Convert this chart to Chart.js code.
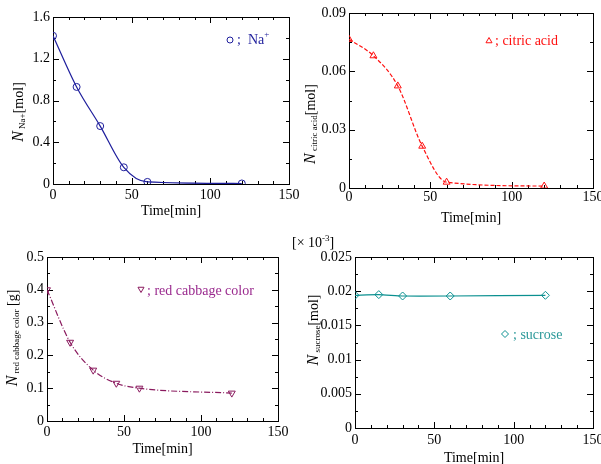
<!DOCTYPE html>
<html lang="en">
  <head>
    <meta charset="UTF-8">
    <title>Removal over time</title>
    <script src="https://cdn.jsdelivr.net/npm/chart.js"></script>
    <style>
      body { margin: 0; background: #fff; }
      #wrap { position: relative; width: 601px; height: 464px; overflow: hidden; }
      #wrap canvas { position: absolute; left: 0; top: 0; }
      .warm { position: absolute; left: -999px; top: 0; font-family: 'Liberation Serif'; }
    </style>
  </head>
  <body>
  <div id="wrap">
    <canvas id="c1" width="601" height="464"></canvas>
    <canvas id="c2" width="601" height="464"></canvas>
    <canvas id="c3" width="601" height="464"></canvas>
    <canvas id="c4" width="601" height="464"></canvas>
  </div>
  <span class="warm">Time <i>N</i></span>
  <script>

// data
const timeMin = [0, 15, 30, 45, 60, 120];
const naMol = [1.42, 0.93, 0.555, 0.16, 0.02, 0.005];
const citricMol = [0.0765, 0.068, 0.0525, 0.0215, 0.003, 0.001];
const cabbageG = [0.40, 0.24, 0.155, 0.115, 0.10, 0.085];
const sucroseTime = [0, 15, 30, 60, 120];
const sucroseMol = [0.0194, 0.0195, 0.0193, 0.0193, 0.0194];

const xTicks = [0, 50, 100, 150];
const naTicks = [0, 0.4, 0.8, 1.2, 1.6];
const citricTicks = [0, 0.03, 0.06, 0.09];
const cabbageTicks = [0, 0.1, 0.2, 0.3, 0.4, 0.5];
const sucroseTicks = [0, 0.005, 0.01, 0.015, 0.02, 0.025];

const SERIF = "'Liberation Serif', 'Times New Roman', serif";
const FS = 14;

function pts(xs, ys) {
  return xs.map((x, i) => ({x: x, y: ys[i]}));
}

// draw text made of pieces (subscripts etc), optionally rotated
function drawRich(ctx, parts, x, y, rot, center) {
  ctx.save();
  ctx.translate(x, y);
  if (rot) ctx.rotate(rot);
  let w = 0;
  parts.forEach(p => { ctx.font = p.font; w += ctx.measureText(p.t).width; });
  let cx = center ? -w / 2 : 0;
  ctx.textBaseline = 'alphabetic';
  ctx.textAlign = 'left';
  parts.forEach(p => {
    ctx.font = p.font;
    ctx.fillStyle = p.color || '#000';
    ctx.fillText(p.t, cx, p.dy || 0);
    cx += ctx.measureText(p.t).width;
  });
  ctx.restore();
}

const framePlugin = {
  id: 'frame',
  beforeDatasetsDraw(chart, args, o) {
    const ctx = chart.ctx, a = chart.chartArea;
    const x = chart.scales.x, y = chart.scales.y;
    ctx.save();
    ctx.strokeStyle = '#000';
    ctx.lineWidth = 1;
    ctx.strokeRect(Math.round(a.left) + 0.5, Math.round(a.top) + 0.5,
      Math.round(a.right - a.left), Math.round(a.bottom - a.top));
    ctx.beginPath();
    for (let v = x.min; v <= x.max + 1e-9; v += o.xMinor) {
      const len = Math.abs(v / o.xMajor - Math.round(v / o.xMajor)) < 1e-6 ? 6 : 3;
      const px = Math.round(x.getPixelForValue(v)) + 0.5;
      ctx.moveTo(px, a.bottom); ctx.lineTo(px, a.bottom - len);
      ctx.moveTo(px, a.top); ctx.lineTo(px, a.top + len);
    }
    for (let v = y.min; v <= y.max + 1e-12; v += o.yMinor) {
      const len = Math.abs(v / o.yMajor - Math.round(v / o.yMajor)) < 1e-6 ? 6 : 3;
      const py = Math.round(y.getPixelForValue(v)) + 0.5;
      ctx.moveTo(a.left, py); ctx.lineTo(a.left + len, py);
      ctx.moveTo(a.right, py); ctx.lineTo(a.right - len, py);
    }
    ctx.stroke();
    ctx.restore();
  },
  afterDraw(chart, args, o) {
    const ctx = chart.ctx, a = chart.chartArea;
    // axis titles
    drawRich(ctx, [{t: 'Time[min]', font: FS + 'px ' + SERIF}], (a.left + a.right) / 2, o.xTitleY, 0, true);
    drawRich(ctx, o.yTitle, o.yTitlePos[0], o.yTitlePos[1], -Math.PI / 2, true);
    // legend
    const ds = chart.data.datasets[0];
    const lg = o.legend;
    ctx.save();
    ctx.strokeStyle = ds.pointBorderColor;
    ctx.fillStyle = 'rgba(0,0,0,0)';
    ctx.lineWidth = 1;
    Chart.helpers.drawPoint(ctx, {pointStyle: ds.pointStyle, radius: lg.r, rotation: ds.pointRotation || 0, borderWidth: 1}, lg.mx, lg.my);
    ctx.restore();
    drawRich(ctx, lg.parts, lg.tx, lg.ty, 0, false);
    if (o.extra) o.extra.forEach(e => drawRich(ctx, e.parts, e.x, e.y, 0, false));
  }
};

function fmt(v) {
  return String(+v.toFixed(4));
}

function makeChart(id, area, data, ds, xTickList, yTickList, frame) {
  const W = 601, H = 464, yW = 45, xH = 30;
  return new Chart(document.getElementById(id), {
    type: 'line',
    data: {datasets: [Object.assign({data: data, showLine: true, borderWidth: 1.2, pointRadius: 3.5,
      pointBorderWidth: 1, pointBackgroundColor: 'rgba(0,0,0,0)', fill: false}, ds)]},
    options: {
      responsive: false,
      animation: false,
      events: [],
      layout: {padding: {left: area.L - yW, right: W - area.R, top: area.T, bottom: H - area.B - xH}},
      plugins: {legend: {display: false}, tooltip: {enabled: false}, frame: frame},
      scales: {
        x: {
          type: 'linear', min: 0, max: 150,
          grid: {display: false, drawTicks: false}, border: {display: false},
          afterBuildTicks: s => { s.ticks = xTickList.map(v => ({value: v})); },
          afterFit: s => { s.height = xH; s.paddingLeft = 0; s.paddingRight = 0; },
          ticks: {color: '#000', padding: area.xPad, maxRotation: 0, autoSkip: false,
            font: {family: SERIF, size: FS}, callback: fmt}
        },
        y: {
          type: 'linear', min: yTickList[0], max: yTickList[yTickList.length - 1],
          grid: {display: false, drawTicks: false}, border: {display: false},
          afterBuildTicks: s => { s.ticks = yTickList.map(v => ({value: v})); },
          afterFit: s => { s.width = yW; s.paddingTop = 0; s.paddingBottom = 0; },
          ticks: {color: '#000', padding: 3, autoSkip: false,
            font: {family: SERIF, size: FS}, callback: fmt}
        }
      }
    },
    plugins: [framePlugin]
  });
}

function yLabel(sub, unit) {
  return [
    {t: 'N', font: 'italic 16px ' + SERIF},
    {t: ' ' + sub, font: '9px ' + SERIF, dy: 2},
    {t: unit, font: FS + 'px ' + SERIF}
  ];
}

const NA = '#1e1e9c', RED = '#ff1010', CAB = '#8a1a5e', CABTXT = '#9a2a8e', TEAL = '#0b9090', TEALTXT = '#2a9898';

function drawAll() {
  makeChart('c1', {L: 53, T: 17, R: 289, B: 184, xPad: 3}, pts(timeMin, naMol),
    {borderColor: NA, pointBorderColor: NA, pointStyle: 'circle', cubicInterpolationMode: 'monotone'},
    xTicks, naTicks,
    {xMajor: 50, xMinor: 10, yMajor: 0.4, yMinor: 0.2, xTitleY: 215,
     yTitle: yLabel('Na+', '[mol]'), yTitlePos: [23, 112],
     legend: {mx: 230, my: 40, r: 3, tx: 237, ty: 44, parts: [
       {t: ';  Na', font: FS + 'px ' + SERIF, color: NA},
       {t: '+', font: '9px ' + SERIF, color: NA, dy: -7}]}});

  makeChart('c2', {L: 349, T: 13, R: 593, B: 188, xPad: 1}, pts(timeMin, citricMol),
    {borderColor: RED, pointBorderColor: RED, pointStyle: 'triangle', pointRadius: 4,
     borderDash: [4, 2], cubicInterpolationMode: 'monotone'},
    xTicks, citricTicks,
    {xMajor: 50, xMinor: 10, yMajor: 0.03, yMinor: 0.015, xTitleY: 222,
     yTitle: yLabel('citric acid', '[mol]'), yTitlePos: [315, 124],
     legend: {mx: 489, my: 41, r: 3.5, tx: 495, ty: 45, parts: [
       {t: '; citric acid', font: FS + 'px ' + SERIF, color: RED}]}});

  makeChart('c3', {L: 47, T: 257, R: 278, B: 421, xPad: 3}, pts(timeMin, cabbageG),
    {borderColor: CAB, pointBorderColor: CAB, pointStyle: 'triangle', pointRotation: 180, pointRadius: 4,
     borderDash: [6, 2, 1, 2], cubicInterpolationMode: 'monotone'},
    xTicks, cabbageTicks,
    {xMajor: 50, xMinor: 10, yMajor: 0.1, yMinor: 0.05, xTitleY: 453,
     yTitle: yLabel('red cabbage color', ' [g]'), yTitlePos: [17, 338],
     legend: {mx: 141, my: 289, r: 3.5, tx: 147, ty: 295, parts: [
       {t: '; red cabbage color', font: FS + 'px ' + SERIF, color: CABTXT}]},
     extra: [{x: 292, y: 247, parts: [
       {t: '[\u00d7 10', font: FS + 'px ' + SERIF},
       {t: '-3', font: '9px ' + SERIF, dy: -6},
       {t: ']', font: FS + 'px ' + SERIF}]}]});

  makeChart('c4', {L: 355, T: 257, R: 593, B: 428, xPad: 4}, pts(sucroseTime, sucroseMol),
    {borderColor: TEAL, pointBorderColor: TEAL, pointStyle: 'rectRot', pointRadius: 4, tension: 0.2},
    xTicks, sucroseTicks,
    {xMajor: 50, xMinor: 10, yMajor: 0.005, yMinor: 0.0025, xTitleY: 462,
     yTitle: yLabel('sucrose', '[mol]'), yTitlePos: [318, 330],
     legend: {mx: 505, my: 334, r: 3.5, tx: 513, ty: 339, parts: [
       {t: '; sucrose', font: FS + 'px ' + SERIF, color: TEALTXT}]}});
}

// make sure the serif face is ready before the canvases use it
Promise.all([
  document.fonts.load("14px 'Liberation Serif'"),
  document.fonts.load("italic 16px 'Liberation Serif'")
]).then(drawAll, drawAll);

</script>
  </body>
</html>
